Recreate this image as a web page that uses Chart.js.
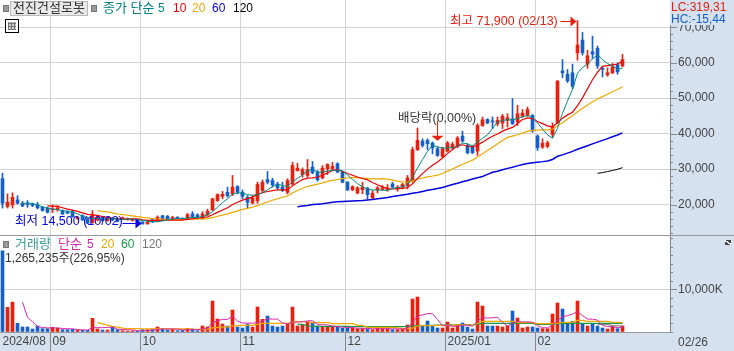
<!DOCTYPE html>
<html>
<head>
<meta charset="utf-8">
<script src="https://cdn.jsdelivr.net/npm/chart.js@4"></script>
<style>
html, body { margin: 0; padding: 0; width: 734px; height: 351px; overflow: hidden; background: #d6e1f0; }
body { position: relative; font-family: "Liberation Sans", "Noto Sans CJK KR", sans-serif; font-size: 12px; color: #444; }
canvas { position: absolute; left: 0; }
#chart-price { top: 0; }
#chart-volume { top: 236px; }
.abs { position: absolute; white-space: nowrap; line-height: 14px; }
.square { position: absolute; width: 4px; height: 5px; background: #999; border: 1px solid #777; }
.rule { position: absolute; left: 0; width: 734px; height: 1px; background: #999; }
#stock { left: 10px; top: 1px; width: 76px; height: 12px; line-height: 12px; padding-bottom: 1px; text-align: center; background: #e9e9e9; border: 1px solid #bbb; color: #333; font-size: 13px; }
#table-icon { left: 5px; top: 19px; width: 8px; height: 8px; border: 1px solid #000; padding: 2px; background: #fff; }
#table-icon div { width: 8px; height: 8px; background: repeating-linear-gradient(90deg, #777 0 1px, transparent 1px 3px), repeating-linear-gradient(0deg, #777 0 1px, #ccc 1px 3px); }
#lc-box { position: absolute; left: 670px; top: 0; width: 64px; height: 25px; background: #d6e1f0; }
#close-box { position: absolute; left: 725px; top: 240px; width: 6px; height: 5px; background: linear-gradient(35deg, #444 40%, #fff 40% 60%, #444 60%); }
</style>
</head>
<body>
<canvas id="chart-price" width="734" height="235"></canvas>
<canvas id="chart-volume" width="734" height="115"></canvas>
<div class="rule" style="top:235px"></div>

<div class="square" style="left:3px;top:5px"></div>
<div class="abs" id="stock">전진건설로봇</div>
<div class="square" style="left:91px;top:5px"></div>
<span class="abs" style="left:103px;top:1px;color:#008080;font-size:13px">종가 단순</span>
<span class="abs" style="left:158px;top:1px;color:#008080">5</span>
<span class="abs" style="left:173px;top:1px;color:#f00000">10</span>
<span class="abs" style="left:192px;top:1px;color:#e8a800">20</span>
<span class="abs" style="left:212px;top:1px;color:#0000e0">60</span>
<span class="abs" style="left:233px;top:1px;color:#000">120</span>
<div class="abs" id="table-icon"><div></div></div>

<div id="lc-box"></div>
<span class="abs" style="left:671px;top:0;color:#e8200e">LC:319,31</span>
<span class="abs" style="left:671px;top:12px;color:#1560c8">HC:-15,44</span>

<div class="square" style="left:3px;top:241px"></div>
<span class="abs" style="left:15px;top:237px;color:#3c9c9c;font-size:13px">거래량</span>
<span class="abs" style="left:58px;top:237px;color:#d828a8;font-size:13px">단순</span>
<span class="abs" style="left:87px;top:237px;color:#d828a8">5</span>
<span class="abs" style="left:101px;top:237px;color:#e8a800">20</span>
<span class="abs" style="left:121px;top:237px;color:#189848">60</span>
<span class="abs" style="left:142px;top:237px;color:#777">120</span>
<span class="abs" style="left:5px;top:251px;color:#333">1,265,235주(226,95%)</span>
<div id="close-box"></div>
<span class="abs" style="left:678px;top:335px">02/26</span>

<script>
var monthTicks = { 0: '2024/08', 10: '09', 28: '10', 48: '11', 69: '12', 89: '2025/01', 107: '02' };
var slotCount = 134;
var priceTicks = [12000,14000,16000,18000,20000,22000,24000,26000,28000,30000,32000,34000,36000,38000,40000,42000,44000,
    46000,48000,50000,52000,54000,56000,58000,60000,62000,64000,66000,68000,70000,72000,74000,76000];
var priceLabels = [20000,30000,40000,50000,60000,70000];
var volumeTicks = [0,2000,4000,6000,8000,10000,12000,14000,16000,18000,20000,22000];
var volumeLabels = [10000];

var opens = [27300,19450,19900,21300,20350,20350,20150,19900,19250,19050,
    18500,18650,18300,18000,18000,16000,16900,15900,14950,15600,
    16400,15450,16000,16000,15850,15800,15500,15650,15050,14500,
    15700,15250,16800,16700,15750,16400,16100,15900,17350,17050,
    16000,17100,18500,21100,22300,23450,23000,25050,23450,22050,
    20450,21100,23950,27050,26750,25800,24900,23450,25800,29600,
    28450,28200,30550,29150,27500,30050,30050,31500,29150,26300,
    24150,23250,24200,24600,21850,24150,24300,24150,25800,24400,
    24900,25350,26770,35450,37900,38100,37350,35750,33550,35050,
    36000,36400,39300,36650,36400,35050,42300,44000,43600,42800,
    43000,43750,44200,43300,44900,45150,45150,39300,36200,36400,
    39800,43200,57700,56750,57150,62800,66400,59600,63100,64050,
    58350,56600,57150,59500,59100];
var highs = [28850,23000,23300,22500,20900,21100,20400,20600,19450,19300,
    19900,19700,18500,18200,18450,16600,17100,16400,18300,16600,
    16600,16600,16200,16200,16500,16200,16100,15800,15200,15200,
    15900,16800,17000,16900,16700,16600,16300,17500,18000,17400,
    18000,18700,21800,23000,23700,24900,28200,25350,24100,22500,
    22500,26300,26950,29300,27450,26300,26300,27250,31950,31650,
    30350,32700,32150,29600,31000,31500,31900,31800,29400,26500,
    25300,25000,26300,24900,23950,25050,25350,25650,26300,25350,
    26000,28200,36200,41600,38550,38550,37650,36200,36200,37800,
    37600,39200,40700,37150,36650,42800,44700,44200,44700,44700,
    45450,45600,49900,48000,46800,47500,45400,39700,38550,37900,
    43000,55000,60900,58100,59600,71900,68550,63550,67500,64700,
    58800,58550,59800,59950,62400];
var lows = [19000,19000,19000,20150,19400,19200,19400,18750,18100,17600,
    17700,18100,17150,17400,16400,15800,15500,14600,14700,15400,
    15300,15300,15400,15100,15700,15600,15300,14900,14500,14500,
    14900,15100,15700,15800,15650,15800,15700,15700,16200,16200,
    15800,16900,18300,20900,21600,22050,22500,23000,21600,19050,
    20150,20350,23450,25800,24900,24100,23650,23000,25350,29400,
    27700,27700,28650,26600,27250,28450,29600,28950,26100,23900,
    23900,23000,23000,21600,21600,23250,23950,23750,24700,23750,
    24400,24400,26300,35250,36200,35450,34300,33550,33300,34800,
    35450,36000,37600,34300,34400,33850,42050,42800,41400,42200,
    41400,41860,42600,42300,44700,44900,40400,35250,35800,36000,
    39000,42800,55800,54400,52700,60700,62150,58400,61200,58400,
    56000,56200,56950,56750,58850];
var closes = [20350,20650,22050,20350,19600,20000,19700,19050,18300,17800,
    18750,19050,17350,17550,16600,16400,15650,14700,16900,16400,
    15450,16400,15600,15250,16300,16000,15950,15000,14500,15050,
    15050,16400,15850,15900,16400,15900,15800,17150,16400,16400,
    17350,18100,21600,22800,22900,22500,24900,23450,22350,20650,
    21750,25650,26300,26300,25550,24700,23950,26750,31000,30250,
    29800,29800,28950,26950,30250,31300,30750,29150,26300,24150,
    25050,24700,24900,22800,23200,24700,24700,24700,24900,24900,
    25650,27500,35450,38100,36650,37150,36000,33850,35750,37350,
    36950,38750,37900,34600,34600,42300,43900,43000,43300,43750,
    44900,44500,42800,45630,45800,46800,40700,36000,37300,37400,
    42050,54800,57150,54900,53400,65000,62800,61950,62450,59100,
    58150,57150,58850,57450,60900];

// moving averages, each starts where its line starts
var ma5 = [20300,20400,20300,19900,19330,18970,18720,18590,18250,18100,17860,17390,16710,16180,16050,16010,
    15820,15970,16150,15820,15800,15910,15820,15700,15550,15300,15110,15200,15370,15650,15920,16090,15970,16230,
    16330,16330,16620,17080,17970,19250,20550,21580,22940,23310,23220,22770,22620,22770,23340,24130,25110,25700,
    25360,25050,26390,27330,28350,29520,29960,29150,29150,29450,29640,29680,29550,28330,27080,25870,25020,24320,
    24130,24060,24060,24020,24440,24780,24990,25530,27680,30320,32670,34970,36670,36350,35880,36020,35980,36530,
    37340,37110,36560,37630,38660,39680,41420,43250,43770,43890,43850,44320,44730,45110,44590,42990,41320,39640,
    38690,41510,45740,49260,52460,57050,58650,59610,61120,62260,60890,59760,59140,58140,58500];
var ma10 = [19640,19560,19450,19080,18720,18420,18060,17650,17220,17080,16940,16600,16340,16170,15940,15900,
    15870,15900,15930,15690,15550,15510,15510,15540,15600,15610,15600,15590,15800,15990,16130,16360,16530,17100,
    17790,18440,19100,20010,20640,21240,21660,22100,22860,23330,23680,23940,24160,24070,24200,25260,26220,27030,
    27440,27510,27770,28240,28900,29580,29820,29350,28740,28270,27760,27350,26940,26230,25570,24970,24520,24380,
    24460,24530,24800,25850,27380,28730,29980,31100,32020,33100,34350,35480,36600,36850,36500,36290,36800,37600,
    38510,39270,39900,40700,41280,41770,42870,43990,44440,44240,43420,42820,42190,41900,43050,44370,45290,46050,
    47870,50080,52680,55190,57360,58970,59210,59380,59630,60380];
var ma20 = [18290,18080,17900,17630,17330,17160,16970,16780,16580,16390,16250,16060,15930,15860,15770,15760,
    15740,15750,15870,15840,15840,15940,16020,16320,16700,17030,17350,17800,18220,18620,18900,19230,19700,20220,
    20740,21190,21630,22040,22420,23250,23940,24570,25150,25420,25730,26090,26530,26830,27010,27300,27480,27650,
    27600,27430,27360,27240,27240,27280,27170,26870,26600,26400,26280,26600,27160,27480,27780,28040,28270,28740,
    29410,30010,30700,31350,31940,32510,33390,34350,35270,36190,37130,38090,38940,39310,39690,40140,40620,40920,
    40970,41050,41050,41300,42170,43070,44080,45020,46160,47160,48050,49010,49780,50440,51130,51880,52460,53220];
var ma60 = [19350,19550,19750,20000,20100,20200,20400,20650,20750,20850,20950,21000,21050,21100,21250,21400,
    21600,21800,22000,22250,22500,22700,22900,23150,23400,23700,24000,24250,24500,24800,25200,25650,26000,26400,
    26800,27200,27550,27900,28500,29100,29400,29800,30200,30500,30900,31300,31550,31800,31950,32100,32300,32700,
    33600,34000,34500,35000,35600,36100,36600,37100,37600,38100,38600,39100,39600,40200];
var ma120 = [28800,29000,29300,29600,29950,30400];

var volumes = [19000,5770,7000,2030,1170,1170,700,1400,780,780,
    1090,860,550,550,620,390,390,390,3200,700,
    470,470,1090,550,310,230,230,230,550,550,
    620,1170,700,470,620,310,390,860,700,310,
    1400,1170,7250,3040,1870,1400,5150,1170,940,1870,
    1170,5850,2960,3740,1400,1170,1400,1790,5850,1400,
    1560,2420,2030,1400,1170,1250,1250,1090,860,860,
    1010,780,780,700,550,1090,780,780,550,550,
    860,1640,7720,8190,1480,2570,1480,940,940,2340,
    940,1640,2100,1170,700,7020,6080,1400,1400,1400,
    1170,1480,4910,3280,940,1170,1170,940,780,780,
    4210,6790,5380,2030,2500,7250,2030,1400,1870,1400,
    940,700,1400,780,1400];
var volMa5 = [6990,3430,2410,1290,1040,970,950,980,810,770,730,590,500,470,1000,1010,1030,1050,1190,660,580,530,480,
    310,310,360,440,620,720,700,720,650,500,530,580,510,730,890,2170,2630,2950,2950,3740,2530,2110,2110,2060,2200,
    2560,3120,3020,3020,2130,1900,2320,2320,2400,2600,2650,1760,1720,1650,1420,1230,1120,1060,1010,920,860,830,760,
    780,780,780,750,750,700,880,2260,3790,3980,4320,4290,2930,1480,1650,1330,1360,1590,1640,1310,2530,3410,3270,3320,
    3460,2290,1370,2070,2450,2360,2360,2290,1500,1000,970,1580,2700,3590,3840,4180,4790,3840,3040,3010,2790,1530,
    1260,1260,1040,1040];
var volMa20 = [2260,1900,1600,1300,1150,900,800,800,780,760,750,750,760,760,750,750,750,750,760,680,630,640,680,950,
    1090,1150,1200,1430,1470,1560,1560,1560,1800,2030,2030,2030,2030,2030,2030,2300,2420,2420,2400,2180,2180,2180,
    2180,1950,1950,1950,1950,1950,1560,1560,1090,1090,1090,1090,1090,1090,1000,850,800,900,1400,1500,1500,1500,1550,
    1550,1600,1600,1650,1700,1700,1700,2000,2500,2500,2500,2500,2500,2500,2500,2180,2180,2180,2180,1950,1950,1950,
    1950,2000,2260,2260,2260,2730,2730,2500,2500,2500,2500,2500,2260,2260,2180];
var volMa60 = [1790,1790,1400,1330,1320,1320,1310,1310,1300,1300,1300,1290,1290,1280,1280,1280,1270,1270,1260,1260,
    1250,1250,1300,1400,1500,1500,1550,1550,1600,1600,1650,1650,1700,1700,1750,1750,1850,2030,2030,2030,2030,2030,
    2030,2030,2030,2030,2030,2030,1790,1790,1790,1790,1900,2030,2030,2030,2030,2030,2030,2030,2030,2030,2030,2030,
    2030,2030];
var volMa120 = [1800,1800,1800,1500,1450,1450];

var slots = [];
for (var n = 0; n < slotCount; n++) slots.push(n);

var upColor = '#e8200e';
var downColor = '#1560c8';
var candleColors = closes.map(function (c, i) { return c >= opens[i] ? upColor : downColor; });
var bodies = closes.map(function (c, i) { return [opens[i], c]; });
var wicks = highs.map(function (h, i) { return [lows[i], h]; });

function lead(count, values) {
    return new Array(count).fill(null).concat(values);
}
function maLine(values, start, color, width) {
    return {
        type: 'line',
        data: lead(start, values),
        borderColor: color,
        borderWidth: width,
        pointRadius: 0,
        tension: 0,
        fill: false,
        order: 1
    };
}

// white plot, the band round it is the page background
var plotBackground = {
    id: 'plotBackground',
    beforeDraw: function (chart) {
        var a = chart.chartArea;
        chart.ctx.fillStyle = '#fff';
        chart.ctx.fillRect(a.left, a.top, a.right - a.left, a.bottom - a.top);
    }
};
// long ticks on labelled values, short ones between
var rightTicks = {
    id: 'rightTicks',
    afterDraw: function (chart) {
        var y = chart.scales.y, ctx = chart.ctx, x0 = chart.chartArea.right;
        ctx.save();
        ctx.fillStyle = '#888';
        y.ticks.forEach(function (t) {
            var py = Math.round(y.getPixelForValue(t.value));
            ctx.fillRect(x0, py, t.label ? 7 : 3, 1);
        });
        ctx.restore();
    }
};
var priceNotes = {
    id: 'priceNotes',
    afterDatasetsDraw: function (chart) {
        var ctx = chart.ctx, xs = chart.scales.x, ys = chart.scales.y;
        var font = '12.5px "Liberation Sans", "Noto Sans CJK KR", sans-serif';
        function rightArrow(i, value, color, len) {
            var tip = xs.getPixelForValue(i) - 1, py = Math.round(ys.getPixelForValue(value)) + 0.5;
            ctx.fillStyle = color;
            ctx.fillRect(tip - len, py - 0.5, len - 4, 1);
            ctx.beginPath();
            ctx.moveTo(tip, py);
            ctx.lineTo(tip - 6, py - 5);
            ctx.lineTo(tip - 6, py + 5);
            ctx.fill();
        }
        ctx.save();
        ctx.font = font;
        ctx.textBaseline = 'middle';
        ctx.textAlign = 'left';

        ctx.fillStyle = upColor;
        ctx.fillText('최고 71,900 (02/13)', 450, ys.getPixelForValue(71900) + 1);
        rightArrow(115, 71900, upColor, 16);

        ctx.fillStyle = '#0000e0';
        ctx.fillText('최저 14,500 (10/02)', 15, ys.getPixelForValue(14800) - 1);
        rightArrow(28, 14800, '#0000e0', 19);

        ctx.fillStyle = '#333';
        ctx.fillText('배당락(0,00%)', 398, ys.getPixelForValue(44500) + 1);
        var ax = xs.getPixelForValue(87), tipY = ys.getPixelForValue(38000);
        ctx.fillStyle = upColor;
        ctx.fillRect(ax - 0.5, tipY - 20, 1, 16);
        ctx.beginPath();
        ctx.moveTo(ax, tipY);
        ctx.lineTo(ax - 6, tipY - 5);
        ctx.lineTo(ax + 6, tipY - 5);
        ctx.fill();
        ctx.restore();
    }
};

function xAxis(showLabels) {
    return {
        offset: true,
        afterFit: function (s) {
            s.height = showLabels ? 19 : 0;
            s.paddingLeft = 0;
            s.paddingRight = 0;
        },
        grid: {
            offset: true,
            drawTicks: showLabels,
            color: function (c) { return monthTicks[c.index] !== undefined && c.index > 0 ? '#d3d3d3' : 'transparent'; },
            tickColor: function (c) { return monthTicks[c.index] !== undefined && c.index > 0 ? '#888' : 'transparent'; },
            tickLength: 19
        },
        border: { display: showLabels, color: '#999' },
        ticks: {
            display: showLabels,
            autoSkip: false,
            maxRotation: 0,
            align: 'start',
            padding: -17,
            color: '#444',
            font: { family: '"Liberation Sans", "Noto Sans CJK KR", sans-serif', size: 12 },
            callback: function (v, i) { return monthTicks[i] !== undefined ? monthTicks[i] : ''; }
        }
    };
}
function yAxis(min, max, tickValues, labelled, suffix) {
    return {
        position: 'right',
        min: min,
        max: max,
        afterBuildTicks: function (s) {
            s.ticks = tickValues.map(function (v) { return { value: v }; });
        },
        afterFit: function (s) {
            s.width = 64;
            s.paddingTop = 0;
            s.paddingBottom = 0;
        },
        grid: {
            drawTicks: false,
            color: function (c) { return c.tick && labelled.indexOf(c.tick.value) >= 0 ? '#d3d3d3' : 'transparent'; }
        },
        border: { display: true, color: '#888' },
        ticks: {
            autoSkip: false,
            padding: 8,
            color: '#444',
            font: { family: '"Liberation Sans", "Noto Sans CJK KR", sans-serif', size: 12 },
            callback: function (v) { return labelled.indexOf(v) >= 0 ? v.toLocaleString('en-US') + suffix : ''; }
        }
    };
}
function baseOptions(x, y) {
    return {
        responsive: false,
        animation: false,
        events: [],
        layout: { padding: 0 },
        plugins: { legend: { display: false }, tooltip: { enabled: false } },
        scales: { x: x, y: y }
    };
}

var chartPrice = new Chart(document.getElementById('chart-price'), {
    type: 'bar',
    data: {
        labels: slots,
        datasets: [
            maLine(ma5, 4, '#008a80', 1),
            maLine(ma10, 9, '#f00000', 1.2),
            maLine(ma20, 19, '#f0a800', 1.2),
            maLine(ma60, 59, '#0000e0', 1.5),
            maLine(ma120, 119, '#000000', 1),
            { data: bodies, backgroundColor: candleColors, barThickness: 3, grouped: false, minBarLength: 1, order: 2 },
            { data: wicks, backgroundColor: candleColors, barThickness: 1, grouped: false, order: 3 }
        ]
    },
    options: baseOptions(xAxis(false), yAxis(11400, 77700, priceTicks, priceLabels, '')),
    plugins: [plotBackground, rightTicks, priceNotes]
});

var chartVolume = new Chart(document.getElementById('chart-volume'), {
    type: 'bar',
    data: {
        labels: slots,
        datasets: [
            maLine(volMa5, 4, '#d828a8', 1),
            maLine(volMa20, 19, '#f0a800', 1.2),
            maLine(volMa60, 59, '#189848', 1.2),
            maLine(volMa120, 119, '#888888', 1.2),
            { data: volumes, backgroundColor: candleColors, barThickness: 3, grouped: false, order: 2 }
        ]
    },
    options: baseOptions(xAxis(true), yAxis(0, 22480, volumeTicks, volumeLabels, 'K')),
    plugins: [plotBackground, rightTicks]
});
</script>
</body>
</html>
